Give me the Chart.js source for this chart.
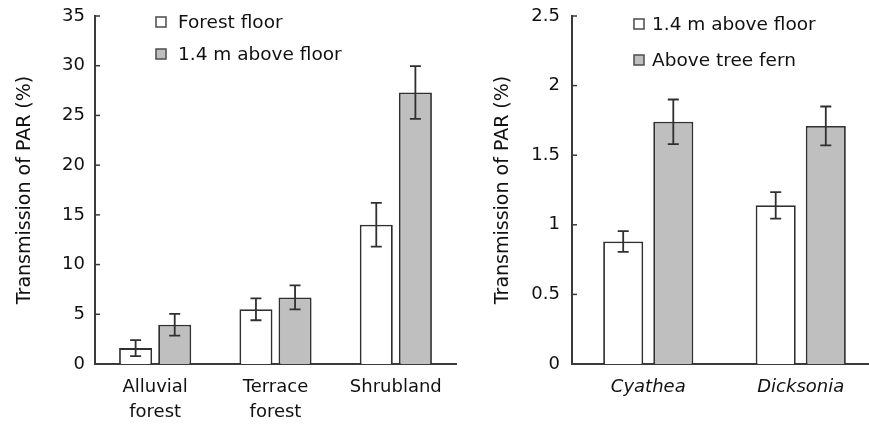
<!DOCTYPE html>
<html>
<head>
<meta charset="utf-8">
<script src="https://cdn.jsdelivr.net/npm/chart.js@4.4.1/dist/chart.umd.min.js"></script>
<style>
  html, body { margin: 0; padding: 0; background: #ffffff; overflow: hidden; width: 869px; height: 425px; }
  #wrapL { position: absolute; left: 0; top: 0; width: 460px; height: 425px; }
  #wrapR { position: absolute; left: 440px; top: 0; width: 440px; height: 425px; }
</style>
</head>
<body>
<div id="wrapL"><canvas id="left"></canvas></div>
<div id="wrapR"><canvas id="right"></canvas></div>
<script>
// ---- Data ----
const leftCategories = [['Alluvial', 'forest'], ['Terrace', 'forest'], 'Shrubland'];
const leftSeriesNames = ['Forest floor', '1.4 m above floor'];
const forestFloor = [1.6, 5.5, 14.0];
const forestFloorErr = [0.8, 1.1, 2.2];
const aboveFloor = [3.95, 6.7, 27.3];
const aboveFloorErr = [1.1, 1.2, 2.65];
const leftTicks = [0, 5, 10, 15, 20, 25, 30, 35];
const leftTickLabels = ['0', '5', '10', '15', '20', '25', '30', '35'];

const rightCategories = ['Cyathea', 'Dicksonia'];
const rightSeriesNames = ['1.4 m above floor', 'Above tree fern'];
const fernFloor = [0.88, 1.14];
const fernFloorErr = [0.075, 0.095];
const aboveFern = [1.74, 1.71];
const aboveFernErr = [0.16, 0.14];
const rightTicks = [0, 0.5, 1, 1.5, 2, 2.5];
const rightTickLabels = ['0', '0.5', '1', '1.5', '2', '2.5'];

const yTitle = 'Transmission of PAR (%)';

// ---- Styles ----
const INK = '#111111';
const AXIS = '#3a3a3a';
const EDGE = '#303030';
const GREY = '#bfbfbf';
const FONT = "'DejaVu Sans', sans-serif";

// Error bars drawn through the chart's own scales
const errorBars = {
  id: 'errorBars',
  afterDatasetsDraw(chart) {
    const ctx = chart.ctx;
    const y = chart.scales.y;
    ctx.save();
    ctx.strokeStyle = EDGE;
    ctx.lineWidth = 1.8;
    chart.data.datasets.forEach((ds, di) => {
      const meta = chart.getDatasetMeta(di);
      meta.data.forEach((bar, i) => {
        const v = ds.data[i], e = ds.errors[i];
        const yt = y.getPixelForValue(v + e);
        const yb = y.getPixelForValue(v - e);
        const cap = 5.5;
        ctx.beginPath();
        ctx.moveTo(bar.x, yt); ctx.lineTo(bar.x, yb);
        ctx.moveTo(bar.x - cap, yt); ctx.lineTo(bar.x + cap, yt);
        ctx.moveTo(bar.x - cap, yb); ctx.lineTo(bar.x + cap, yb);
        ctx.stroke();
      });
    });
    ctx.restore();
  }
};

// Inward tick marks on the y axis
const innerTicks = {
  id: 'innerTicks',
  afterDraw(chart) {
    const ctx = chart.ctx;
    const y = chart.scales.y;
    const left = chart.chartArea.left;
    ctx.save();
    ctx.strokeStyle = AXIS;
    ctx.lineWidth = 1.5;
    y.ticks.forEach(t => {
      const py = y.getPixelForValue(t.value);
      ctx.beginPath();
      ctx.moveTo(left, py); ctx.lineTo(left + 5, py);
      ctx.stroke();
    });
    ctx.restore();
  }
};

// Legend drawn from dataset labels/colours
const boxLegend = {
  id: 'boxLegend',
  afterDraw(chart, args, opts) {
    const ctx = chart.ctx;
    ctx.save();
    ctx.font = '18.5px ' + FONT;
    ctx.textBaseline = 'middle';
    ctx.textAlign = 'left';
    chart.data.datasets.forEach((ds, i) => {
      const cy = opts.rows[i];
      const s = 10;
      ctx.fillStyle = ds.backgroundColor;
      ctx.fillRect(opts.boxX, cy - s / 2, s, s);
      ctx.strokeStyle = '#555';
      ctx.lineWidth = 1.6;
      ctx.strokeRect(opts.boxX, cy - s / 2, s, s);
      ctx.fillStyle = INK;
      ctx.fillText(ds.label, opts.textX, cy + 1);
    });
    ctx.restore();
  }
};

function makeChart(id, cats, names, s1, e1, s2, e2, ticks, tickLabels, opts) {
  return new Chart(document.getElementById(id), {
    type: 'bar',
    data: {
      labels: cats,
      datasets: [
        { label: names[0], data: s1, errors: e1, backgroundColor: '#ffffff', borderColor: EDGE, borderWidth: 1.8 },
        { label: names[1], data: s2, errors: e2, backgroundColor: GREY, borderColor: EDGE, borderWidth: 1.8 }
      ]
    },
    options: {
      responsive: true,
      maintainAspectRatio: false,
      animation: false,
      devicePixelRatio: 1,
      layout: { padding: { left: 0, right: opts.padRight, top: 16, bottom: 0 } },
      datasets: { bar: { categoryPercentage: opts.catPct, barPercentage: opts.barPct } },
      plugins: {
        legend: { display: false },
        tooltip: { enabled: false },
        boxLegend: opts.legend
      },
      scales: {
        x: {
          grid: { display: false, drawTicks: false },
          border: { display: true, color: AXIS, width: 2 },
          ticks: {
            color: INK,
            padding: 11,
            maxRotation: 0,
            autoSkip: false,
            font: { family: FONT, size: 18, style: opts.xStyle, lineHeight: 1.4 }
          },
          afterFit: s => { s.height = 61; }
        },
        y: {
          min: ticks[0],
          max: ticks[ticks.length - 1],
          afterBuildTicks: s => { s.ticks = ticks.map(v => ({ value: v })); },
          grid: { display: false, drawTicks: false },
          border: { display: true, color: AXIS, width: 2 },
          ticks: {
            color: INK,
            padding: opts.tickPad,
            font: { family: FONT, size: 18, lineHeight: 0.4 },
            callback: (v, i) => tickLabels[i]
          },
          title: {
            display: true,
            text: yTitle,
            color: INK,
            font: { family: FONT, size: 19 },
            padding: { top: opts.titlePad, bottom: 0 }
          },
          afterFit: s => { s.width = opts.yWidth; }
        }
      }
    },
    plugins: [errorBars, innerTicks, boxLegend]
  });
}

makeChart('left', leftCategories, leftSeriesNames, forestFloor, forestFloorErr, aboveFloor, aboveFloorErr, leftTicks, leftTickLabels, {
  padRight: 4, catPct: 0.65, barPct: 0.845, xStyle: 'normal', tickPad: 10, titlePad: 13.6, yWidth: 95,
  legend: { boxX: 156, textX: 178, rows: [22, 54] }
});

makeChart('right', rightCategories, rightSeriesNames, fernFloor, fernFloorErr, aboveFern, aboveFernErr, rightTicks, rightTickLabels, {
  padRight: 3, catPct: 0.657, barPct: 0.8, xStyle: 'italic', tickPad: 12, titlePad: 51.6, yWidth: 132,
  legend: { boxX: 194, textX: 212, rows: [24, 60] }
});
</script>
</body>
</html>
